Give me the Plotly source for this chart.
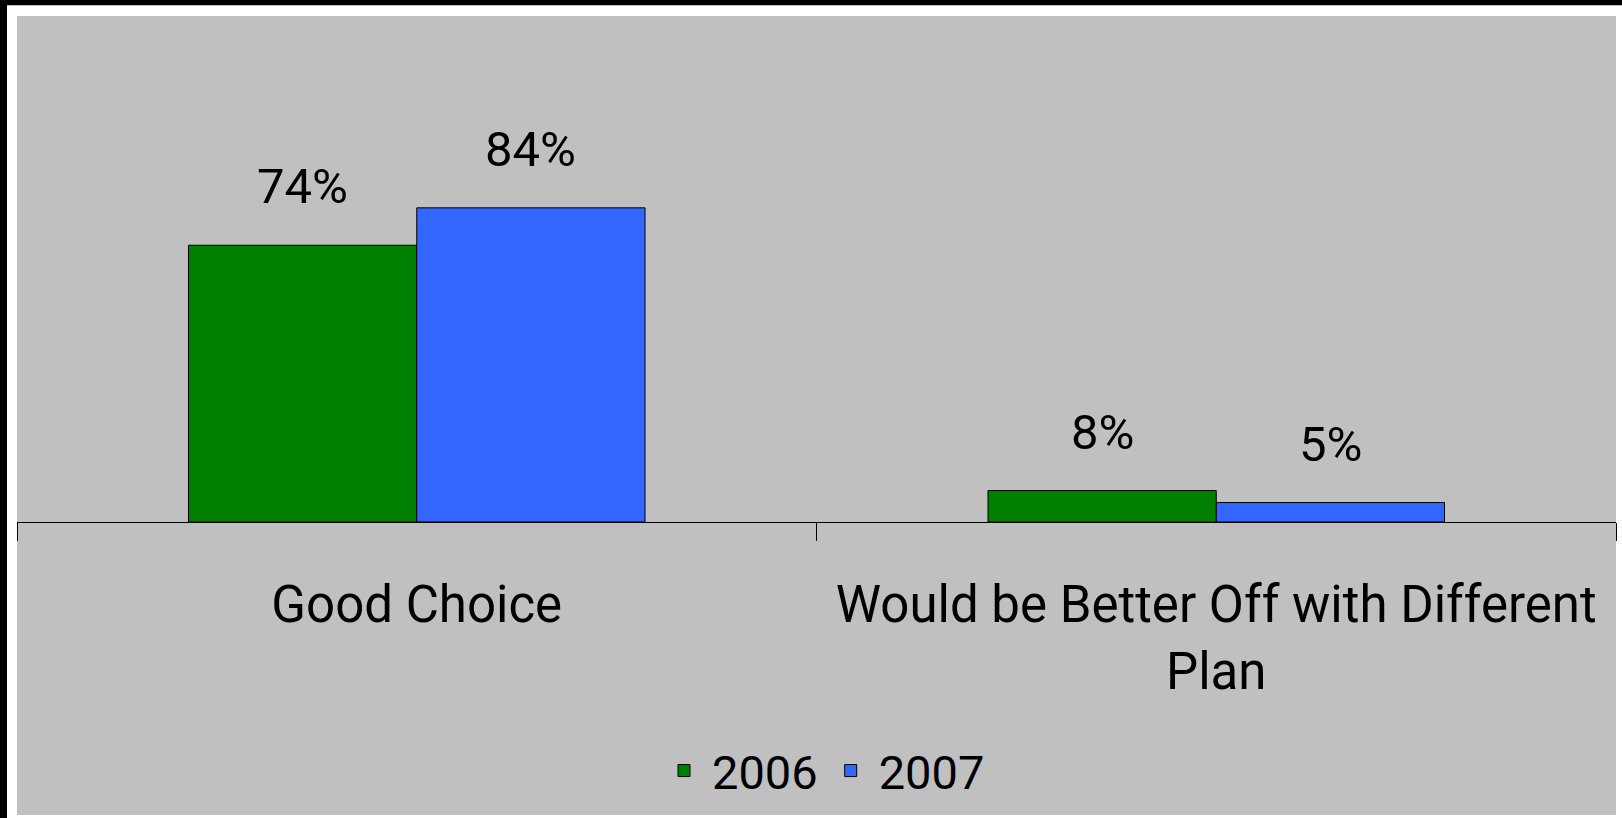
import plotly.graph_objects as go

categories = ["Good Choice", "Would be Better Off with Different<br>Plan"]
years = ["2006", "2007"]
values_2006 = [74, 8.4]
values_2007 = [84, 5.2]
colors = ["#008000", "#3366FF"]

FONT = "Roboto, Liberation Sans, Arial, sans-serif"
W, H = 1622, 818
ML, MR, MT, MB = 17, 6, 16, 296
BARGAP = 0.429
PX_PER_UNIT = 3.74
PLOT_H = H - MT - MB
PLOT_W = W - ML - MR

fig = go.Figure()
series = [values_2006, values_2007]
for k, (name, vals, col) in enumerate(zip(years, series, colors)):
    fig.add_trace(go.Bar(
        name=name, x=categories, y=vals,
        marker=dict(color=col, line=dict(color="black", width=1)),
        hoverinfo="skip",
    ))

# value labels above bars, positioned from category index and bar slot width
slot = (1 - BARGAP) / len(series)
annotations = []
for k, vals in enumerate(series):
    off = -(1 - BARGAP) / 2 + (k + 0.5) * slot
    for i, v in enumerate(vals):
        annotations.append(dict(
            x=i + off, y=v, xref="x", yref="y",
            text=f"{v:.0f}%", showarrow=False,
            yanchor="bottom", yshift=28,
            font=dict(family=FONT, size=49, color="black"),
        ))

def X(px):
    return (px - ML) / PLOT_W

def Y(py):
    return (H - MB - py) / PLOT_H

shapes = [
    dict(type="rect", xref="paper", yref="paper", x0=X(17), x1=X(1616), y0=Y(815), y1=Y(16),
         fillcolor="#C0C0C0", line=dict(width=0), layer="below"),
    dict(type="rect", xref="paper", yref="paper", x0=X(0), x1=X(W), y0=Y(5.3), y1=Y(0),
         fillcolor="black", line=dict(width=0), layer="above"),
    dict(type="rect", xref="paper", yref="paper", x0=X(0), x1=X(7), y0=Y(H), y1=Y(0),
         fillcolor="black", line=dict(width=0), layer="above"),
]

fig.update_layout(
    width=W, height=H,
    margin=dict(l=ML, r=MR, t=MT, b=MB, pad=0, autoexpand=False),
    paper_bgcolor="white",
    plot_bgcolor="#C0C0C0",
    barmode="group", bargap=BARGAP, bargroupgap=0,
    font=dict(family=FONT, size=51, color="black"),
    showlegend=True,
    legend=dict(orientation="h", x=X(823), xanchor="center", y=Y(771), yanchor="middle",
                itemwidth=46,
                bgcolor="rgba(0,0,0,0)", font=dict(family=FONT, size=47, color="black")),
    annotations=annotations,
    shapes=shapes,
    xaxis=dict(type="category", showline=True, linecolor="black", linewidth=1,
               ticks="outside", ticklen=18, tickcolor="black", tickwidth=1,
               tickson="boundaries", showgrid=False, zeroline=False, tickangle=0,
               automargin=False,
               tickfont=dict(family=FONT, size=51, color="black"),
               ticklabelstandoff=38, fixedrange=True),
    yaxis=dict(visible=False, range=[0, PLOT_H / PX_PER_UNIT], fixedrange=True),
)

fig.write_html("out.html", config={"displayModeBar": False},
               post_script="document.body.style.margin='0px';")
